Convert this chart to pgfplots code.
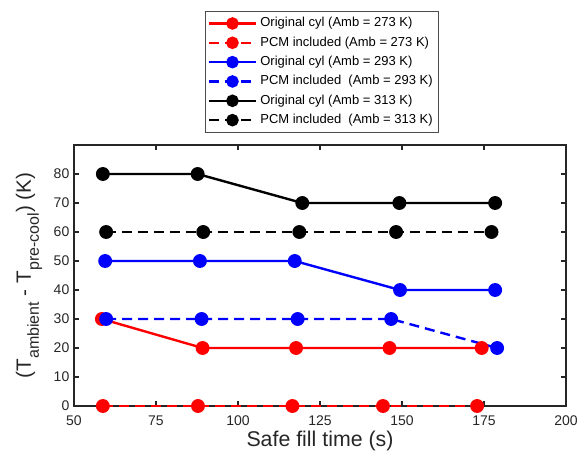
\documentclass[border=0pt]{standalone}
\usepackage{fontspec}
\setmainfont{Liberation Sans}
\usepackage{pgfplots}
\pgfplotsset{compat=1.18}
\definecolor{axgray}{gray}{0.15}
\newcommand\sub[1]{\raisebox{-6pt}{\fontsize{12}{13}\selectfont #1}}
\pgfplotsset{
  orig/.style={#1, solid, line width=1.8pt, mark=*, mark size=4.3pt, mark options={solid, fill=#1}},
  pcm/.style={#1, line width=1.8pt, dash pattern=on 7.5pt off 4.5pt, mark=*, mark size=4.3pt, mark options={solid, fill=#1}},
}
\begin{document}
\begin{tikzpicture}
\useasboundingbox (0,0) rectangle (437.25pt,343.5pt);
\begin{axis}[
  at={(55.5pt,39pt)}, anchor=south west,
  scale only axis, width=369pt, height=195.75pt,
  xmin=50, xmax=200, ymin=0, ymax=90,
  xtick={50,75,...,200}, ytick={0,10,...,80},
  tick align=inside, major tick length=3.75pt,
  axis line style={axgray, line width=1.2pt},
  every tick/.style={axgray, line width=1.2pt},
  tick label style={font=\fontsize{10.5}{12}\selectfont, text=axgray},
  xticklabel style={yshift=-4pt},
  /pgf/number format/assume math mode=true,
  xlabel={Safe fill time (s)},
  xlabel style={font=\fontsize{16}{18}\selectfont, text=axgray,
    at={(axis description cs:0.5,-0.155)}, anchor=base},
  ylabel={(T\sub{ambient} - T\sub{pre-cool}) (K)},
  ylabel style={font=\fontsize{15.5}{18}\selectfont, text=axgray,
    at={(axis description cs:-0.0874,0.5)}, anchor=base, rotate=0},
  clip=false,
  legend cell align=left,
  legend style={at={(axis description cs:0.504,1)}, anchor=south, yshift=9pt,
    draw=gray!60!black, line width=0.8pt,
    font=\fontsize{9.75}{11}\selectfont,
    nodes={text height=7.3pt, text depth=2.2pt, inner sep=2.5pt},
    inner xsep=2pt, inner ysep=2pt},
  legend image code/.code={
    \draw[mark repeat=2, mark phase=2, mark size=3.8pt]
      plot coordinates {(0pt,0pt) (17.5pt,0pt) (35pt,0pt)};},
]
% Amb = 273 K
\addplot[orig=red] coordinates {(58.5,30) (89.2,20) (117.7,20) (146.2,20) (174.3,20)};
\addlegendentry{Original cyl (Amb = 273 K)}
\addplot[pcm=red] coordinates {(58.8,0) (87.8,0) (116.6,0) (144.2,0) (172.9,0)};
\addlegendentry{PCM included (Amb = 273 K)}
% Amb = 293 K
\addplot[orig=blue] coordinates {(59.5,50) (88.4,50) (117.3,50) (149.4,40) (178.4,40)};
\addlegendentry{Original cyl (Amb = 293 K)}
\addplot[pcm=blue] coordinates {(59.8,30) (88.9,30) (118.2,30) (146.7,30) (179,20)};
\addlegendentry{PCM included\ \ (Amb = 293 K)}
% Amb = 313 K
\addplot[orig=black] coordinates {(58.8,80) (87.7,80) (119.6,70) (149.2,70) (178.4,70)};
\addlegendentry{Original cyl (Amb = 313 K)}
\addplot[pcm=black] coordinates {(59.8,60) (89.4,60) (118.7,60) (148.2,60) (177.3,60)};
\addlegendentry{PCM included\ \ (Amb = 313 K)}
\end{axis}
\end{tikzpicture}
\end{document}
